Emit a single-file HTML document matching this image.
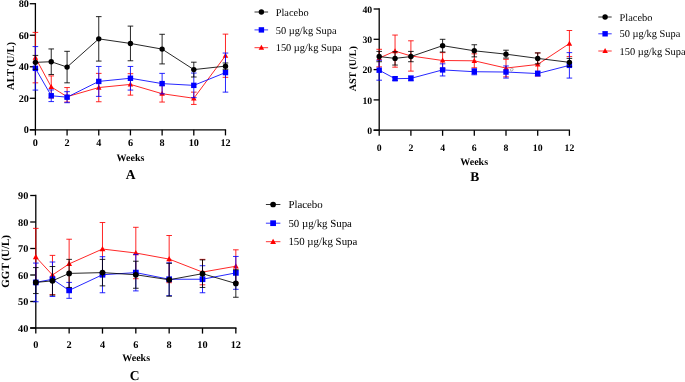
<!DOCTYPE html>
<html><head><meta charset="utf-8"><style>
html,body{margin:0;padding:0;background:#fff;}
body{width:685px;height:382px;overflow:hidden;font-family:"Liberation Serif",serif;}
svg{display:block;}
</style></head><body>
<svg width="685" height="382" viewBox="0 0 685 382">
<rect width="685" height="382" fill="#fff"/>
<filter id="gs" filterUnits="userSpaceOnUse" x="0" y="0" width="685" height="382"><feOffset dx="0" dy="0"/></filter>
<g filter="url(#gs)" text-rendering="geometricPrecision">
<g stroke="#000" stroke-width="1.3" fill="none" stroke-linecap="butt">
<path d="M35.4 3.07V129.8"/>
<path d="M29.8 129.8H226.13"/>
<path d="M29.8 129.8H35.4"/>
<path d="M29.8 98.28H35.4"/>
<path d="M29.8 66.76H35.4"/>
<path d="M29.8 35.24H35.4"/>
<path d="M29.8 3.72H35.4"/>
<path d="M35.4 129.8V135.4"/>
<path d="M67.08 129.8V135.4"/>
<path d="M98.76 129.8V135.4"/>
<path d="M130.44 129.8V135.4"/>
<path d="M162.12 129.8V135.4"/>
<path d="M193.8 129.8V135.4"/>
<path d="M225.48 129.8V135.4"/>
</g>
<g font-family="Liberation Serif" font-weight="bold" font-size="10.2" fill="#000">
<text x="28.9" y="133.2" text-anchor="end">0</text>
<text x="28.9" y="101.68" text-anchor="end">20</text>
<text x="28.9" y="70.16" text-anchor="end">40</text>
<text x="28.9" y="38.64" text-anchor="end">60</text>
<text x="28.9" y="7.12" text-anchor="end">80</text>
<text x="35.4" y="146.4" text-anchor="middle">0</text>
<text x="67.08" y="146.4" text-anchor="middle">2</text>
<text x="98.76" y="146.4" text-anchor="middle">4</text>
<text x="130.44" y="146.4" text-anchor="middle">6</text>
<text x="162.12" y="146.4" text-anchor="middle">8</text>
<text x="193.8" y="146.4" text-anchor="middle">10</text>
<text x="225.48" y="146.4" text-anchor="middle">12</text>
</g>
<text x="130.5" y="161" text-anchor="middle" font-family="Liberation Serif" font-weight="bold" font-size="10">Weeks</text>
<text x="130.5" y="179" text-anchor="middle" font-family="Liberation Serif" font-weight="bold" font-size="13.5">A</text>
<text transform="translate(13.5 66) rotate(-90)" text-anchor="middle" font-family="Liberation Serif" font-weight="bold" font-size="10.6">ALT (U/L)</text>
<g stroke="#ff0000" stroke-width="0.85" fill="none">
<path d="M35.4 57.62L51.24 86.93L67.08 96.7L98.76 87.56L130.44 84.41L162.12 93.71L193.8 98.28L225.48 55.73"/>
<path d="M35.4 32.4V82.84 M32.6 32.4H38.2 M32.6 82.84H38.2"/>
<path d="M51.24 75.9V97.96 M48.44 75.9H54.04 M48.44 97.96H54.04"/>
<path d="M67.08 87.56V102.06 M64.28 87.56H69.88 M64.28 102.06H69.88"/>
<path d="M98.76 73.38V101.75 M95.96 73.38H101.56 M95.96 101.75H101.56"/>
<path d="M130.44 73.69V95.13 M127.64 73.69H133.24 M127.64 95.13H133.24"/>
<path d="M162.12 85.36V102.06 M159.32 85.36H164.92 M159.32 102.06H164.92"/>
<path d="M193.8 92.13V104.43 M191 92.13H196.6 M191 104.43H196.6"/>
<path d="M225.48 34.14V77.32 M222.68 34.14H228.28 M222.68 77.32H228.28"/>
</g>
<path d="M35.4 54.72L38.15 59.72L32.65 59.72Z" fill="#ff0000"/>
<path d="M51.24 84.03L53.99 89.03L48.49 89.03Z" fill="#ff0000"/>
<path d="M67.08 93.8L69.83 98.8L64.33 98.8Z" fill="#ff0000"/>
<path d="M98.76 84.66L101.51 89.66L96.01 89.66Z" fill="#ff0000"/>
<path d="M130.44 81.51L133.19 86.51L127.69 86.51Z" fill="#ff0000"/>
<path d="M162.12 90.81L164.87 95.81L159.37 95.81Z" fill="#ff0000"/>
<path d="M193.8 95.38L196.55 100.38L191.05 100.38Z" fill="#ff0000"/>
<path d="M225.48 52.83L228.23 57.83L222.73 57.83Z" fill="#ff0000"/>
<g stroke="#0000ff" stroke-width="0.85" fill="none">
<path d="M35.4 68.34L51.24 95.76L67.08 97.18L98.76 81.42L130.44 78.26L162.12 83.62L193.8 85.36L225.48 72.59"/>
<path d="M35.4 46.59V90.08 M32.6 46.59H38.2 M32.6 90.08H38.2"/>
<path d="M51.24 89.93V101.59 M48.44 89.93H54.04 M48.44 101.59H54.04"/>
<path d="M67.08 91.66V102.69 M64.28 91.66H69.88 M64.28 102.69H69.88"/>
<path d="M98.76 66.44V96.39 M95.96 66.44H101.56 M95.96 96.39H101.56"/>
<path d="M130.44 66.44V90.08 M127.64 66.44H133.24 M127.64 90.08H133.24"/>
<path d="M162.12 73.38V93.87 M159.32 73.38H164.92 M159.32 93.87H164.92"/>
<path d="M193.8 73.06V97.65 M191 73.06H196.6 M191 97.65H196.6"/>
<path d="M225.48 53.05V92.13 M222.68 53.05H228.28 M222.68 92.13H228.28"/>
</g>
<rect x="32.7" y="65.64" width="5.4" height="5.4" fill="#0000ff"/>
<rect x="48.54" y="93.06" width="5.4" height="5.4" fill="#0000ff"/>
<rect x="64.38" y="94.48" width="5.4" height="5.4" fill="#0000ff"/>
<rect x="96.06" y="78.72" width="5.4" height="5.4" fill="#0000ff"/>
<rect x="127.74" y="75.56" width="5.4" height="5.4" fill="#0000ff"/>
<rect x="159.42" y="80.92" width="5.4" height="5.4" fill="#0000ff"/>
<rect x="191.1" y="82.66" width="5.4" height="5.4" fill="#0000ff"/>
<rect x="222.78" y="69.89" width="5.4" height="5.4" fill="#0000ff"/>
<g stroke="#000000" stroke-width="0.85" fill="none">
<path d="M35.4 62.35L51.24 61.72L67.08 67.08L98.76 38.86L130.44 43.44L162.12 49.11L193.8 69.6L225.48 66.13"/>
<path d="M35.4 55.41V69.28 M32.6 55.41H38.2 M32.6 69.28H38.2"/>
<path d="M51.24 48.95V74.48 M48.44 48.95H54.04 M48.44 74.48H54.04"/>
<path d="M67.08 51.32V82.84 M64.28 51.32H69.88 M64.28 82.84H69.88"/>
<path d="M98.76 16.64V61.09 M95.96 16.64H101.56 M95.96 61.09H101.56"/>
<path d="M130.44 26.1V60.77 M127.64 26.1H133.24 M127.64 60.77H133.24"/>
<path d="M162.12 34.29V63.92 M159.32 34.29H164.92 M159.32 63.92H164.92"/>
<path d="M193.8 62.19V77 M191 62.19H196.6 M191 77H196.6"/>
<path d="M225.48 62.98V69.28 M222.68 62.98H228.28 M222.68 69.28H228.28"/>
</g>
<circle cx="35.4" cy="62.35" r="2.7" fill="#000000"/>
<circle cx="51.24" cy="61.72" r="2.7" fill="#000000"/>
<circle cx="67.08" cy="67.08" r="2.7" fill="#000000"/>
<circle cx="98.76" cy="38.86" r="2.7" fill="#000000"/>
<circle cx="130.44" cy="43.44" r="2.7" fill="#000000"/>
<circle cx="162.12" cy="49.11" r="2.7" fill="#000000"/>
<circle cx="193.8" cy="69.6" r="2.7" fill="#000000"/>
<circle cx="225.48" cy="66.13" r="2.7" fill="#000000"/>
<g font-family="Liberation Serif" font-size="10.4" fill="#000">
<path d="M254.5 12H268.1" stroke="#000000" stroke-width="0.8"/>
<circle cx="261.4" cy="12" r="2.7" fill="#000000"/>
<text x="275.7" y="15.6">Placebo</text>
<path d="M254.5 29.9H268.1" stroke="#0000ff" stroke-width="0.8"/>
<rect x="258.7" y="27.2" width="5.4" height="5.4" fill="#0000ff"/>
<text x="275.7" y="33.5">50 µg/kg Supa</text>
<path d="M254.5 47.7H268.1" stroke="#ff0000" stroke-width="0.8"/>
<path d="M261.4 44.8L264.15 49.8L258.65 49.8Z" fill="#ff0000"/>
<text x="275.7" y="51.3">150 µg/kg Supa</text>
</g>
<g stroke="#000" stroke-width="1.3" fill="none" stroke-linecap="butt">
<path d="M379.2 8.35V130.2"/>
<path d="M373.6 130.2H570.05"/>
<path d="M373.6 130.2H379.2"/>
<path d="M373.6 99.9H379.2"/>
<path d="M373.6 69.6H379.2"/>
<path d="M373.6 39.3H379.2"/>
<path d="M373.6 9H379.2"/>
<path d="M379.2 130.2V135.8"/>
<path d="M410.9 130.2V135.8"/>
<path d="M442.6 130.2V135.8"/>
<path d="M474.3 130.2V135.8"/>
<path d="M506 130.2V135.8"/>
<path d="M537.7 130.2V135.8"/>
<path d="M569.4 130.2V135.8"/>
</g>
<g font-family="Liberation Serif" font-weight="bold" font-size="9.75" fill="#000">
<text x="372.2" y="133.8" text-anchor="end">0</text>
<text x="372.2" y="103.5" text-anchor="end">10</text>
<text x="372.2" y="73.2" text-anchor="end">20</text>
<text x="372.2" y="42.9" text-anchor="end">30</text>
<text x="372.2" y="12.6" text-anchor="end">40</text>
<text x="379.2" y="150.8" text-anchor="middle">0</text>
<text x="410.9" y="150.8" text-anchor="middle">2</text>
<text x="442.6" y="150.8" text-anchor="middle">4</text>
<text x="474.3" y="150.8" text-anchor="middle">6</text>
<text x="506" y="150.8" text-anchor="middle">8</text>
<text x="537.7" y="150.8" text-anchor="middle">10</text>
<text x="569.4" y="150.8" text-anchor="middle">12</text>
</g>
<text x="474.2" y="165.3" text-anchor="middle" font-family="Liberation Serif" font-weight="bold" font-size="10">Weeks</text>
<text x="474.8" y="180.6" text-anchor="middle" font-family="Liberation Serif" font-weight="bold" font-size="13.5">B</text>
<text transform="translate(355.8 68.7) rotate(-90)" text-anchor="middle" font-family="Liberation Serif" font-weight="bold" font-size="10">AST (U/L)</text>
<g stroke="#ff0000" stroke-width="0.85" fill="none">
<path d="M379.2 58.09L395.05 51.12L410.9 55.96L442.6 60.51L474.3 60.81L506 68.08L537.7 64.45L569.4 43.54"/>
<path d="M379.2 49.3V66.87 M376.4 49.3H382 M376.4 66.87H382"/>
<path d="M395.05 35.06V67.18 M392.25 35.06H397.85 M392.25 67.18H397.85"/>
<path d="M410.9 40.81V71.11 M408.1 40.81H413.7 M408.1 71.11H413.7"/>
<path d="M442.6 52.63V68.39 M439.8 52.63H445.4 M439.8 68.39H445.4"/>
<path d="M474.3 53.84V67.78 M471.5 53.84H477.1 M471.5 67.78H477.1"/>
<path d="M506 59.3V76.87 M503.2 59.3H508.8 M503.2 76.87H508.8"/>
<path d="M537.7 52.93V75.96 M534.9 52.93H540.5 M534.9 75.96H540.5"/>
<path d="M569.4 30.51V56.57 M566.6 30.51H572.2 M566.6 56.57H572.2"/>
</g>
<path d="M379.2 55.19L381.95 60.19L376.45 60.19Z" fill="#ff0000"/>
<path d="M395.05 48.22L397.8 53.22L392.3 53.22Z" fill="#ff0000"/>
<path d="M410.9 53.06L413.65 58.06L408.15 58.06Z" fill="#ff0000"/>
<path d="M442.6 57.61L445.35 62.61L439.85 62.61Z" fill="#ff0000"/>
<path d="M474.3 57.91L477.05 62.91L471.55 62.91Z" fill="#ff0000"/>
<path d="M506 65.18L508.75 70.18L503.25 70.18Z" fill="#ff0000"/>
<path d="M537.7 61.55L540.45 66.55L534.95 66.55Z" fill="#ff0000"/>
<path d="M569.4 40.64L572.15 45.64L566.65 45.64Z" fill="#ff0000"/>
<g stroke="#0000ff" stroke-width="0.85" fill="none">
<path d="M379.2 70.21L395.05 78.69L410.9 78.39L442.6 69.9L474.3 71.72L506 72.02L537.7 73.54L569.4 65.36"/>
<path d="M379.2 60.21V80.2 M376.4 60.21H382 M376.4 80.2H382"/>
<path d="M395.05 76.87V80.51 M392.25 76.87H397.85 M392.25 80.51H397.85"/>
<path d="M410.9 75.96V80.81 M408.1 75.96H413.7 M408.1 80.81H413.7"/>
<path d="M442.6 63.84V75.96 M439.8 63.84H445.4 M439.8 75.96H445.4"/>
<path d="M474.3 68.69V74.75 M471.5 68.69H477.1 M471.5 74.75H477.1"/>
<path d="M506 65.96V78.08 M503.2 65.96H508.8 M503.2 78.08H508.8"/>
<path d="M537.7 71.11V75.96 M534.9 71.11H540.5 M534.9 75.96H540.5"/>
<path d="M569.4 52.63V78.08 M566.6 52.63H572.2 M566.6 78.08H572.2"/>
</g>
<rect x="376.5" y="67.51" width="5.4" height="5.4" fill="#0000ff"/>
<rect x="392.35" y="75.99" width="5.4" height="5.4" fill="#0000ff"/>
<rect x="408.2" y="75.69" width="5.4" height="5.4" fill="#0000ff"/>
<rect x="439.9" y="67.2" width="5.4" height="5.4" fill="#0000ff"/>
<rect x="471.6" y="69.02" width="5.4" height="5.4" fill="#0000ff"/>
<rect x="503.3" y="69.32" width="5.4" height="5.4" fill="#0000ff"/>
<rect x="535" y="70.84" width="5.4" height="5.4" fill="#0000ff"/>
<rect x="566.7" y="62.66" width="5.4" height="5.4" fill="#0000ff"/>
<g stroke="#000000" stroke-width="0.85" fill="none">
<path d="M379.2 56.57L395.05 58.39L410.9 56.57L442.6 45.66L474.3 50.81L506 54.15L537.7 58.39L569.4 62.33"/>
<path d="M379.2 51.42V61.72 M376.4 51.42H382 M376.4 61.72H382"/>
<path d="M395.05 51.72V65.05 M392.25 51.72H397.85 M392.25 65.05H397.85"/>
<path d="M410.9 51.42V61.72 M408.1 51.42H413.7 M408.1 61.72H413.7"/>
<path d="M442.6 39.3V52.03 M439.8 39.3H445.4 M439.8 52.03H445.4"/>
<path d="M474.3 44.75V56.87 M471.5 44.75H477.1 M471.5 56.87H477.1"/>
<path d="M506 50.21V58.09 M503.2 50.21H508.8 M503.2 58.09H508.8"/>
<path d="M537.7 52.93V63.84 M534.9 52.93H540.5 M534.9 63.84H540.5"/>
<path d="M569.4 58.39V66.27 M566.6 58.39H572.2 M566.6 66.27H572.2"/>
</g>
<circle cx="379.2" cy="56.57" r="2.7" fill="#000000"/>
<circle cx="395.05" cy="58.39" r="2.7" fill="#000000"/>
<circle cx="410.9" cy="56.57" r="2.7" fill="#000000"/>
<circle cx="442.6" cy="45.66" r="2.7" fill="#000000"/>
<circle cx="474.3" cy="50.81" r="2.7" fill="#000000"/>
<circle cx="506" cy="54.15" r="2.7" fill="#000000"/>
<circle cx="537.7" cy="58.39" r="2.7" fill="#000000"/>
<circle cx="569.4" cy="62.33" r="2.7" fill="#000000"/>
<g font-family="Liberation Serif" font-size="10.4" fill="#000">
<path d="M598.3 17H611.7" stroke="#000000" stroke-width="0.8"/>
<circle cx="605.1" cy="17" r="2.7" fill="#000000"/>
<text x="619.5" y="20.6">Placebo</text>
<path d="M598.3 33.8H611.7" stroke="#0000ff" stroke-width="0.8"/>
<rect x="602.4" y="31.1" width="5.4" height="5.4" fill="#0000ff"/>
<text x="619.5" y="37.4">50 µg/kg Supa</text>
<path d="M598.3 51H611.7" stroke="#ff0000" stroke-width="0.8"/>
<path d="M605.1 48.1L607.85 53.1L602.35 53.1Z" fill="#ff0000"/>
<text x="619.5" y="54.6">150 µg/kg Supa</text>
</g>
<g stroke="#000" stroke-width="1.3" fill="none" stroke-linecap="butt">
<path d="M35.8 194.85V328"/>
<path d="M30.2 328H236.49"/>
<path d="M30.2 328H35.8"/>
<path d="M30.2 301.5H35.8"/>
<path d="M30.2 275H35.8"/>
<path d="M30.2 248.5H35.8"/>
<path d="M30.2 222H35.8"/>
<path d="M30.2 195.5H35.8"/>
<path d="M35.8 328V333.6"/>
<path d="M69.14 328V333.6"/>
<path d="M102.48 328V333.6"/>
<path d="M135.82 328V333.6"/>
<path d="M169.16 328V333.6"/>
<path d="M202.5 328V333.6"/>
<path d="M235.84 328V333.6"/>
</g>
<g font-family="Liberation Serif" font-weight="bold" font-size="10.3" fill="#000">
<text x="28.4" y="331.5" text-anchor="end">40</text>
<text x="28.4" y="305" text-anchor="end">50</text>
<text x="28.4" y="278.5" text-anchor="end">60</text>
<text x="28.4" y="252" text-anchor="end">70</text>
<text x="28.4" y="225.5" text-anchor="end">80</text>
<text x="28.4" y="199" text-anchor="end">90</text>
<text x="35.8" y="348" text-anchor="middle">0</text>
<text x="69.14" y="348" text-anchor="middle">2</text>
<text x="102.48" y="348" text-anchor="middle">4</text>
<text x="135.82" y="348" text-anchor="middle">6</text>
<text x="169.16" y="348" text-anchor="middle">8</text>
<text x="202.5" y="348" text-anchor="middle">10</text>
<text x="235.84" y="348" text-anchor="middle">12</text>
</g>
<text x="136.2" y="360.8" text-anchor="middle" font-family="Liberation Serif" font-weight="bold" font-size="10">Weeks</text>
<text x="134.5" y="379.9" text-anchor="middle" font-family="Liberation Serif" font-weight="bold" font-size="13.5">C</text>
<text transform="translate(8.8 261.4) rotate(-90)" text-anchor="middle" font-family="Liberation Serif" font-weight="bold" font-size="11">GGT (U/L)</text>
<g stroke="#ff0000" stroke-width="0.85" fill="none">
<path d="M35.8 256.98L52.47 275L69.14 263.87L102.48 249.03L135.82 253L169.16 259.1L202.5 272.08L235.84 266.25"/>
<path d="M35.8 228.36V282.95 M33 228.36H38.6 M33 282.95H38.6"/>
<path d="M52.47 255.39V294.61 M49.67 255.39H55.27 M49.67 294.61H55.27"/>
<path d="M69.14 239.23V288.51 M66.34 239.23H71.94 M66.34 288.51H71.94"/>
<path d="M102.48 222.53V275.53 M99.68 222.53H105.28 M99.68 275.53H105.28"/>
<path d="M135.82 227.3V278.71 M133.02 227.3H138.62 M133.02 278.71H138.62"/>
<path d="M169.16 235.51V282.69 M166.36 235.51H171.96 M166.36 282.69H171.96"/>
<path d="M202.5 259.37V284.81 M199.7 259.37H205.3 M199.7 284.81H205.3"/>
<path d="M235.84 249.82V282.69 M233.04 249.82H238.64 M233.04 282.69H238.64"/>
</g>
<path d="M35.8 253.91L38.71 259.21L32.88 259.21Z" fill="#ff0000"/>
<path d="M52.47 271.93L55.38 277.23L49.55 277.23Z" fill="#ff0000"/>
<path d="M69.14 260.8L72.06 266.1L66.22 266.1Z" fill="#ff0000"/>
<path d="M102.48 245.96L105.4 251.26L99.56 251.26Z" fill="#ff0000"/>
<path d="M135.82 249.93L138.73 255.23L132.91 255.23Z" fill="#ff0000"/>
<path d="M169.16 256.03L172.08 261.33L166.25 261.33Z" fill="#ff0000"/>
<path d="M202.5 269.01L205.41 274.31L199.59 274.31Z" fill="#ff0000"/>
<path d="M235.84 263.18L238.76 268.48L232.93 268.48Z" fill="#ff0000"/>
<g stroke="#0000ff" stroke-width="0.85" fill="none">
<path d="M35.8 282.42L52.47 279.24L69.14 290.37L102.48 274.74L135.82 272.62L169.16 279.24L202.5 279.24L235.84 272.88"/>
<path d="M35.8 263.07V301.76 M33 263.07H38.6 M33 301.76H38.6"/>
<path d="M52.47 262.01V296.47 M49.67 262.01H55.27 M49.67 296.47H55.27"/>
<path d="M69.14 282.42V298.32 M66.34 282.42H71.94 M66.34 298.32H71.94"/>
<path d="M102.48 256.71V292.75 M99.68 256.71H105.28 M99.68 292.75H105.28"/>
<path d="M135.82 254.33V290.9 M133.02 254.33H138.62 M133.02 290.9H138.62"/>
<path d="M169.16 262.81V295.67 M166.36 262.81H171.96 M166.36 295.67H171.96"/>
<path d="M202.5 265.73V292.75 M199.7 265.73H205.3 M199.7 292.75H205.3"/>
<path d="M235.84 256.45V289.31 M233.04 256.45H238.64 M233.04 289.31H238.64"/>
</g>
<rect x="32.94" y="279.56" width="5.72" height="5.72" fill="#0000ff"/>
<rect x="49.61" y="276.38" width="5.72" height="5.72" fill="#0000ff"/>
<rect x="66.28" y="287.51" width="5.72" height="5.72" fill="#0000ff"/>
<rect x="99.62" y="271.87" width="5.72" height="5.72" fill="#0000ff"/>
<rect x="132.96" y="269.75" width="5.72" height="5.72" fill="#0000ff"/>
<rect x="166.3" y="276.38" width="5.72" height="5.72" fill="#0000ff"/>
<rect x="199.64" y="276.38" width="5.72" height="5.72" fill="#0000ff"/>
<rect x="232.98" y="270.02" width="5.72" height="5.72" fill="#0000ff"/>
<g stroke="#000000" stroke-width="0.85" fill="none">
<path d="M35.8 282.42L52.47 280.83L69.14 273.41L102.48 272.62L135.82 274.74L169.16 279.77L202.5 273.68L235.84 283.48"/>
<path d="M35.8 267.58V293.55 M33 267.58H38.6 M33 293.55H38.6"/>
<path d="M52.47 266.52V295.14 M49.67 266.52H55.27 M49.67 295.14H55.27"/>
<path d="M69.14 259.37V287.45 M66.34 259.37H71.94 M66.34 287.45H71.94"/>
<path d="M102.48 259.37V285.87 M99.68 259.37H105.28 M99.68 285.87H105.28"/>
<path d="M135.82 261.22V288.25 M133.02 261.22H138.62 M133.02 288.25H138.62"/>
<path d="M169.16 263.34V296.2 M166.36 263.34H171.96 M166.36 296.2H171.96"/>
<path d="M202.5 259.89V287.45 M199.7 259.89H205.3 M199.7 287.45H205.3"/>
<path d="M235.84 269.7V297.26 M233.04 269.7H238.64 M233.04 297.26H238.64"/>
</g>
<circle cx="35.8" cy="282.42" r="2.86" fill="#000000"/>
<circle cx="52.47" cy="280.83" r="2.86" fill="#000000"/>
<circle cx="69.14" cy="273.41" r="2.86" fill="#000000"/>
<circle cx="102.48" cy="272.62" r="2.86" fill="#000000"/>
<circle cx="135.82" cy="274.74" r="2.86" fill="#000000"/>
<circle cx="169.16" cy="279.77" r="2.86" fill="#000000"/>
<circle cx="202.5" cy="273.68" r="2.86" fill="#000000"/>
<circle cx="235.84" cy="283.48" r="2.86" fill="#000000"/>
<g font-family="Liberation Serif" font-size="10.85" fill="#000">
<path d="M265.9 204.5H280.4" stroke="#000000" stroke-width="0.8"/>
<circle cx="273.1" cy="204.5" r="2.86" fill="#000000"/>
<text x="288.4" y="208.2">Placebo</text>
<path d="M265.9 223.2H280.4" stroke="#0000ff" stroke-width="0.8"/>
<rect x="270.24" y="220.34" width="5.72" height="5.72" fill="#0000ff"/>
<text x="288.4" y="226.9">50 µg/kg Supa</text>
<path d="M265.9 241.7H280.4" stroke="#ff0000" stroke-width="0.8"/>
<path d="M273.1 238.63L276.02 243.93L270.19 243.93Z" fill="#ff0000"/>
<text x="288.4" y="245.4">150 µg/kg Supa</text>
</g>
<ellipse cx="511.8" cy="69.6" rx="1.2" ry="1.6" transform="rotate(30 511.8 69.6)" fill="none" stroke="#999" stroke-width="0.7"/>
</g>
</svg>
</body></html>
